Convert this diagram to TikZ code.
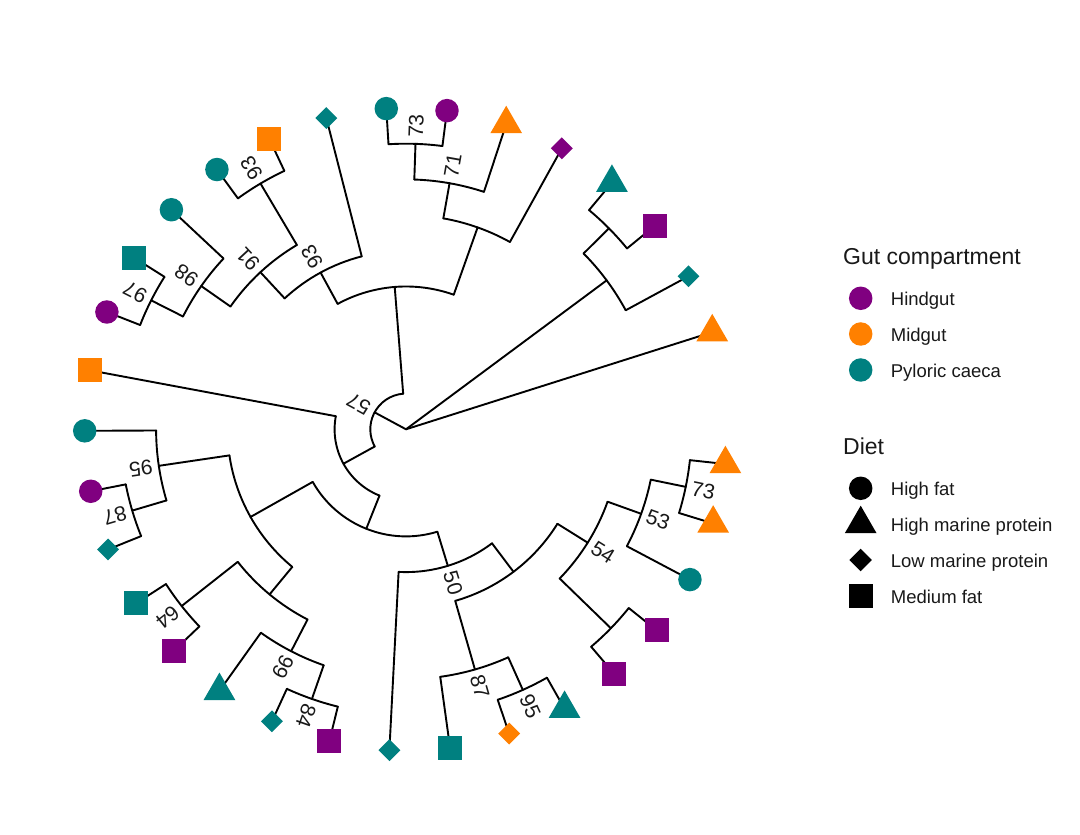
\documentclass[tikz,border=0pt]{standalone}
\usepackage{fontspec}
\setmainfont{Liberation Sans}
\usetikzlibrary{shapes.geometric}
\definecolor{gpurple}{HTML}{800080}
\definecolor{gorange}{HTML}{FF8000}
\definecolor{gteal}{HTML}{008080}
% internal node: name, angle, radius, parent radius, min child angle, max child angle
\newcommand\treenode[6]{%
  \coordinate (#1) at (#2:#3pt);
  \draw[edge] (#2:#4pt) -- (#1);
  \draw[edge] (#5:#3pt) arc[start angle=#5, end angle=#6, radius=#3pt];}
% tip: name, angle, parent radius, shape style, colour
\newcommand\treetip[5]{%
  \draw[edge] (#2:#3pt) -- (#2:321.3pt) node[#4, fill=#5] (#1) {};}
% bootstrap label: angle, radius, text
\newcommand\bootlab[3]{%
  \node[blabel, rotate=#1] at (#1:#2pt) {#3};}
\begin{document}
\begin{tikzpicture}[x=1pt,y=1pt,
  edge/.style={line width=1.9pt, line cap=round, line join=round, black},
  tcirc/.style={circle, minimum size=23.5pt, inner sep=0pt, draw=none},
  tsq/.style={rectangle, minimum size=24pt, inner sep=0pt, draw=none},
  tdia/.style={diamond, minimum size=22.7pt, inner sep=0pt, draw=none},
  ttri/.style={regular polygon, regular polygon sides=3, minimum size=36.6pt, inner sep=0pt, draw=none},
  blabel/.style={font=\fontsize{21}{21}\selectfont, inner sep=0pt, text=black!90},
  ltitle/.style={font=\fontsize{23}{23}\selectfont, inner sep=0pt, text=black!90},
  ltext/.style={font=\fontsize{18.5}{18.5}\selectfont, inner sep=0pt, text=black!90}]
\useasboundingbox (0,0) rectangle (1080,835);
\fill[white] (0,0) rectangle (1080,835);
\begin{scope}[shift={(406,405.7)}]
\coordinate (root) at (0,0);
\treenode{A}{151.680}{35.7}{0}{94.531}{208.828}
\treenode{B}{94.531}{142.8}{35.7}{70.469}{118.594}
\treenode{E}{70.469}{214.2}{142.8}{60.980}{79.959}
\treenode{F}{79.959}{249.9}{214.2}{71.825}{88.0925}
\treenode{N73}{88.0925}{285.6}{249.9}{82.670}{93.515}
\treenode{G}{118.594}{178.5}{142.8}{104.360}{132.828}
\treenode{H}{132.828}{214.2}{178.5}{120.6275}{145.029}
\treenode{N93}{120.6275}{285.6}{214.2}{115.205}{126.050}
\treenode{N98}{145.029}{249.9}{214.2}{136.895}{153.1625}
\treenode{N97}{153.1625}{285.6}{249.9}{147.740}{158.585}
\treenode{X}{36.579}{249.9}{0}{28.445}{44.7125}
\treenode{Y}{44.7125}{285.6}{249.9}{39.290}{50.135}
\treenode{D}{208.828}{71.4}{35.7}{169.430}{248.226}
\treenode{K}{248.226}{107.1}{71.4}{209.421}{287.031}
\treenode{L}{209.421}{178.5}{107.1}{188.409}{230.433}
\treenode{P}{188.409}{249.9}{178.5}{180.275}{196.5425}
\treenode{N87}{196.5425}{285.6}{249.9}{191.120}{201.965}
\treenode{Q}{230.433}{214.2}{178.5}{218.2325}{242.634}
\treenode{N64}{218.2325}{285.6}{214.2}{212.810}{223.655}
\treenode{S}{242.634}{249.9}{214.2}{234.500}{250.7675}
\treenode{N84}{250.7675}{285.6}{249.9}{245.345}{256.190}
\treenode{M}{287.031}{142.8}{107.1}{267.035}{307.026}
\treenode{T}{307.026}{178.5}{142.8}{286.014}{328.038}
\treenode{U}{286.014}{249.9}{178.5}{277.880}{294.1475}
\treenode{N95}{294.1475}{285.6}{249.9}{288.725}{299.570}
\treenode{V}{328.038}{214.2}{178.5}{315.8375}{340.239}
\treenode{W}{315.8375}{285.6}{214.2}{310.415}{321.260}
\treenode{Z}{340.239}{249.9}{214.2}{332.105}{348.3725}
\treenode{N73b}{348.3725}{285.6}{249.9}{342.950}{353.795}
% tips
\treetip{t1}{17.600}{0}{ttri}{gorange}
\treetip{t2}{28.445}{249.9}{tdia}{gteal}
\treetip{t3}{39.290}{285.6}{tsq}{gpurple}
\treetip{t4}{50.135}{285.6}{ttri}{gteal}
\treetip{t5}{60.980}{214.2}{tdia}{gpurple}
\treetip{t6}{71.825}{249.9}{ttri}{gorange}
\treetip{t7}{82.670}{285.6}{tcirc}{gpurple}
\treetip{t8}{93.515}{285.6}{tcirc}{gteal}
\treetip{t9}{104.360}{178.5}{tdia}{gteal}
\treetip{t10}{115.205}{285.6}{tsq}{gorange}
\treetip{t11}{126.050}{285.6}{tcirc}{gteal}
\treetip{t12}{136.895}{249.9}{tcirc}{gteal}
\treetip{t13}{147.740}{285.6}{tsq}{gteal}
\treetip{t14}{158.585}{285.6}{tcirc}{gpurple}
\treetip{t15}{169.430}{71.4}{tsq}{gorange}
\treetip{t16}{180.275}{249.9}{tcirc}{gteal}
\treetip{t17}{191.120}{285.6}{tcirc}{gpurple}
\treetip{t18}{201.965}{285.6}{tdia}{gteal}
\treetip{t19}{212.810}{285.6}{tsq}{gteal}
\treetip{t20}{223.655}{285.6}{tsq}{gpurple}
\treetip{t21}{234.500}{249.9}{ttri}{gteal}
\treetip{t22}{245.345}{285.6}{tdia}{gteal}
\treetip{t23}{256.190}{285.6}{tsq}{gpurple}
\treetip{t24}{267.035}{142.8}{tdia}{gteal}
\treetip{t25}{277.880}{249.9}{tsq}{gteal}
\treetip{t26}{288.725}{285.6}{tdia}{gorange}
\treetip{t27}{299.570}{285.6}{ttri}{gteal}
\treetip{t28}{310.415}{285.6}{tsq}{gpurple}
\treetip{t29}{321.260}{285.6}{tsq}{gpurple}
\treetip{t30}{332.105}{249.9}{tcirc}{gteal}
\treetip{t31}{342.950}{285.6}{ttri}{gorange}
\treetip{t32}{353.795}{285.6}{ttri}{gorange}
% bootstrap labels
\bootlab{151.680}{53.7}{57}
\bootlab{88.0925}{303.6}{73}
\bootlab{79.959}{267.9}{71}
\bootlab{118.594}{196.5}{93}
\bootlab{132.828}{232.2}{91}
\bootlab{120.6275}{303.6}{93}
\bootlab{145.029}{267.9}{98}
\bootlab{153.1625}{303.6}{97}
\bootlab{188.409}{267.9}{95}
\bootlab{196.5425}{303.6}{87}
\bootlab{218.2325}{303.6}{64}
\bootlab{242.634}{267.9}{99}
\bootlab{250.7675}{303.6}{84}
\bootlab{287.031}{160.8}{50}
\bootlab{286.014}{267.9}{87}
\bootlab{294.1475}{303.6}{95}
\bootlab{328.038}{232.2}{54}
\bootlab{340.239}{267.9}{53}
\bootlab{348.3725}{303.6}{73}
\end{scope}
% legend: gut compartment
\node[ltitle, anchor=base west] (gtitle) at (843,570) {Gut compartment};
\node[tcirc, fill=gpurple] (gk1) at (860.7,536.7) {};
\node[ltext, anchor=base west] (gl1) at (890.7,529.2) {Hindgut};
\node[tcirc, fill=gorange] (gk2) at (860.7,501) {};
\node[ltext, anchor=base west] (gl2) at (890.7,493.5) {Midgut};
\node[tcirc, fill=gteal] (gk3) at (860.7,465) {};
\node[ltext, anchor=base west] (gl3) at (890.7,457.5) {Pyloric caeca};
% legend: diet
\node[ltitle, anchor=base west] (dtitle) at (843,380) {Diet};
\node[tcirc, fill=black] (dk1) at (860.7,346.7) {};
\node[ltext, anchor=base west] (dl1) at (890.7,339.2) {High fat};
\node[ttri, fill=black] (dk2) at (860.7,311) {};
\node[ltext, anchor=base west] (dl2) at (890.7,303.5) {High marine protein};
\node[tdia, fill=black] (dk3) at (860.7,275) {};
\node[ltext, anchor=base west] (dl3) at (890.7,267.5) {Low marine protein};
\node[tsq, fill=black] (dk4) at (860.7,239) {};
\node[ltext, anchor=base west] (dl4) at (890.7,231.5) {Medium fat};
\end{tikzpicture}
\end{document}
